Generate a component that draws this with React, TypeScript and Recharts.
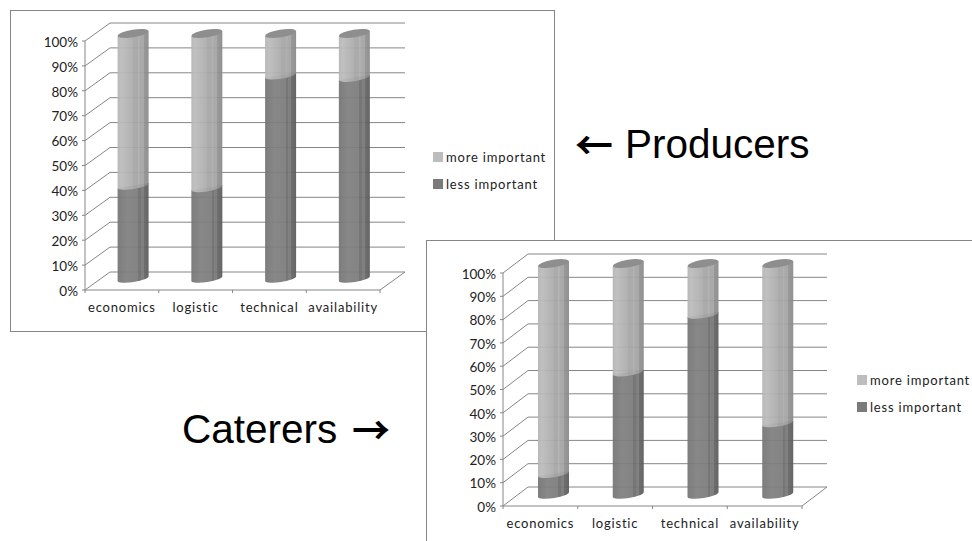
import React from 'react';
import { BarChart, Bar, XAxis, YAxis, CartesianGrid, Legend } from 'recharts';

const categories = ['economics', 'logistic', 'technical', 'availability'];
const yTicks = [0, 10, 20, 30, 40, 50, 60, 70, 80, 90, 100];
const producersLess = [38, 37, 83, 82];
const producersMore = [62, 63, 17, 18];
const caterersLess = [9, 53, 78, 31];
const caterersMore = [91, 47, 22, 69];

const GRID = '#868686';
const FONT = 'Lato, "Open Sans", sans-serif';
const LESS = '#7a7a7a';
const MORE = '#bdbdbd';

const lessBands: [number, string][] = [[0, '#757575'], [0.3, '#808080'], [0.66, '#7c7c7c'], [0.66, '#6e6e6e'], [0.74, '#6e6e6e'], [0.74, '#787878'], [0.84, '#787878'], [0.84, '#666666'], [1, '#5c5c5c']];
const moreBands: [number, string][] = [[0, '#b4b4b4'], [0.12, '#bcbcbc'], [0.5, '#acacac'], [0.5, '#a6a6a6'], [0.66, '#a6a6a6'], [0.66, '#b0b0b0'], [0.74, '#a4a4a4'], [0.84, '#a4a4a4'], [0.84, '#939393'], [1, '#8a8a8a']];

const makeRows = (less: number[], more: number[]) =>
  categories.map((name, i) => ({ name, less: less[i], more: more[i] }));

// horizontal banding, like the faceted cylinders of the old 3D chart
const Bands = ({ id, stops }: { id: string; stops: [number, string][] }) => (
  <defs>
    <linearGradient id={id} x1="0" y1="0" x2="1" y2="0">
      {stops.map(([o, c], i) => <stop key={i} offset={o} stopColor={c} />)}
    </linearGradient>
  </defs>
);

const Cylinder = (p: any) => {
  const { x, y, width, height, fillId, cap, geo } = p;
  const map = (v: number) => geo.barBase + (v - geo.front0) * geo.barScale;
  const left = x + geo.dx;
  const right = left + width;
  const top = map(y);
  const bottom = map(y + height);
  const rise = 5;
  const body =
    `M${left},${top} L${left},${bottom} ` +
    `A${width / 2},3.6 -9 0 0 ${right},${bottom - rise} ` +
    `L${right},${top - rise} Z`;
  return (
    <g>
      <path d={body} fill={`url(#${fillId})`} fillOpacity={0.94} />
      {cap && (
        <ellipse
          cx={left + width / 2}
          cy={top - rise / 2}
          rx={width / 2}
          ry={3.8}
          fill="#8e8e8e"
          transform={`rotate(-9 ${left + width / 2} ${top - rise / 2})`}
        />
      )}
    </g>
  );
};

const Panel = ({ id, less, more, frame, plot, legendPos, geo }: any) => {
  const rows = makeRows(less, more);
  const step = (plot.right - plot.left) / categories.length;

  const gridLine = (g: any) => {
    const isFloor = Math.abs(g.y1 - plot.bottom + frame.top) < 0.5;
    return (
      <g key={g.key}>
        <line x1={g.x1} y1={g.y1} x2={g.x1 + geo.wallX} y2={g.y1 - geo.wallY} stroke={GRID} />
        <line x1={g.x1 + geo.wallX} y1={g.y1 - geo.wallY} x2={g.x2 + geo.wallX} y2={g.y1 - geo.wallY} stroke={GRID} />
        {isFloor && (
          <line x1={g.x2} y1={g.y1} x2={g.x2 + geo.wallX} y2={g.y1 - geo.wallY} stroke={GRID} />
        )}
      </g>
    );
  };

  const xTick = (t: any) => {
    const axisY = plot.bottom - frame.top;
    return (
      <g>
        <line x1={t.x - step / 2} y1={axisY} x2={t.x - step / 2} y2={axisY + 3} stroke={GRID} />
        {t.index === categories.length - 1 && (
          <line x1={t.x + step / 2} y1={axisY} x2={t.x + step / 2} y2={axisY + 3} stroke={GRID} />
        )}
        <text x={t.x} y={axisY + 22} textAnchor="middle" fontFamily={FONT} fontSize={13} letterSpacing={0.8} fill="#222">
          {t.payload.value}
        </text>
      </g>
    );
  };

  const legendContent = (l: any) => (
    <div style={{ fontFamily: FONT, fontSize: 13, letterSpacing: 0.8, color: '#222' }}>
      {[...l.payload].reverse().map((e: any) => (
        <div key={e.value} style={{ position: 'relative', height: 27, lineHeight: '27px', paddingLeft: 13, whiteSpace: 'nowrap' }}>
          <span style={{ position: 'absolute', left: 0, top: 8, width: 10, height: 10, background: e.color }} />
          {e.value}
        </div>
      ))}
    </div>
  );

  return (
    <div
      style={{
        position: 'absolute',
        left: frame.left,
        top: frame.top,
        width: frame.width,
        height: frame.height,
        background: '#fff',
        outline: `1.5px solid ${GRID}`,
        outlineOffset: -1,
      }}
    >
      <BarChart
        width={frame.width}
        height={frame.height}
        data={rows}
        barSize={geo.barSize}
        margin={{
          top: plot.top - frame.top,
          left: 0,
          right: frame.left + frame.width - plot.right,
          bottom: 0,
        }}
      >
        <Bands id={`${id}-less`} stops={lessBands} />
        <Bands id={`${id}-more`} stops={moreBands} />
        <CartesianGrid horizontal={gridLine} vertical={false} />
        <XAxis dataKey="name" axisLine={{ stroke: GRID }} tickLine={false} tick={xTick} interval={0} height={frame.top + frame.height - plot.bottom} />
        <YAxis
          domain={[0, 100]}
          ticks={yTicks}
          interval={0}
          tickFormatter={(v) => `${v}%`}
          axisLine={{ stroke: GRID }}
          tickLine={{ stroke: GRID }}
          tickSize={3}
          tickMargin={4}
          width={plot.left - frame.left}
          tick={{ fontFamily: FONT, fontSize: 13.5, fill: '#222', dy: 1 }}
        />
        <Legend
          layout="vertical"
          align="center"
          verticalAlign="middle"
          content={legendContent}
          wrapperStyle={{ left: legendPos.left - frame.left, top: legendPos.top - frame.top, width: 130, right: 'auto', bottom: 'auto' }}
        />
        <Bar
          dataKey="less"
          name="less important"
          stackId="a"
          fill={LESS}
          isAnimationActive={false}
          shape={(s: any) => <Cylinder {...s} fillId={`${id}-less`} geo={geo} />}
        />
        <Bar
          dataKey="more"
          name="more important"
          stackId="a"
          fill={MORE}
          isAnimationActive={false}
          shape={(s: any) => <Cylinder {...s} fillId={`${id}-more`} geo={geo} cap />}
        />
      </BarChart>
    </div>
  );
};

const bigText: React.CSSProperties = {
  position: 'absolute',
  fontFamily: '"Liberation Sans", Arial, sans-serif',
  fontSize: 40.5,
  lineHeight: '46px',
  color: '#000',
  whiteSpace: 'nowrap',
};
const arrowText: React.CSSProperties = { ...bigText, fontFamily: '"Noto Sans CJK JP", sans-serif', fontWeight: 700, fontSize: 38 };

export default function App() {
  return (
    <div style={{ position: 'absolute', left: 0, top: 0, width: 972, height: 541, overflow: 'hidden', background: '#fff' }}>
      <Panel
        id="prod"
        less={producersLess}
        more={producersMore}
        frame={{ left: 10, top: 10, width: 545, height: 322 }}
        plot={{ left: 85, right: 380, top: 41, bottom: 290 }}
        legendPos={{ left: 433, top: 144 }}
        geo={{ wallX: 25, wallY: 18, dx: 11.6, barSize: 31, front0: 280, barBase: 271, barScale: 0.984 }}
      />
      <div style={{ ...arrowText, left: 575, top: 120 }}>←</div>
      <div style={{ ...bigText, left: 625, top: 121 }}>Producers</div>
      <Panel
        id="cat"
        less={caterersLess}
        more={caterersMore}
        frame={{ left: 426, top: 240, width: 560, height: 330 }}
        plot={{ left: 503, right: 802, top: 273, bottom: 506 }}
        legendPos={{ left: 857, top: 367 }}
        geo={{ wallX: 25, wallY: 19, dx: 13, barSize: 31, front0: 266, barBase: 257, barScale: 0.991 }}
      />
      <div style={{ ...bigText, left: 182, top: 406 }}>Caterers</div>
      <div style={{ ...arrowText, left: 352, top: 405 }}>→</div>
    </div>
  );
}
